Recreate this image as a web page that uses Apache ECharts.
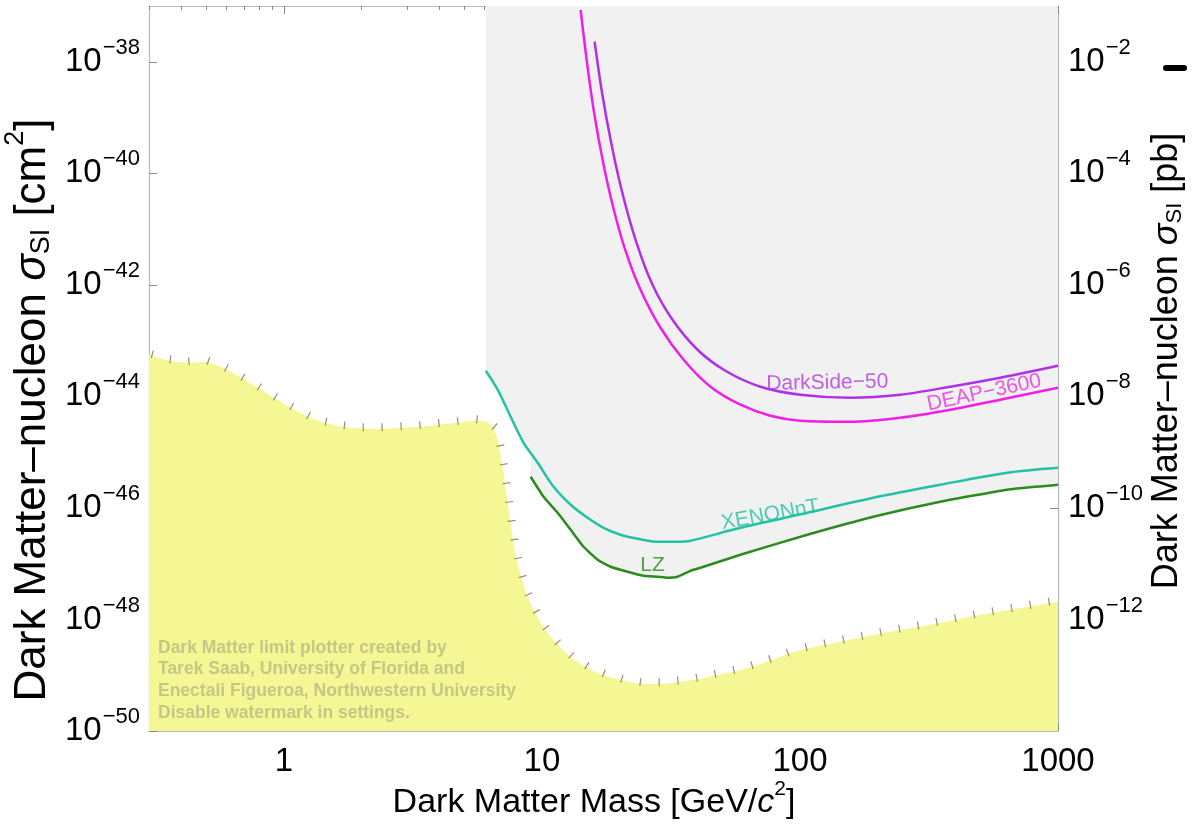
<!DOCTYPE html>
<html>
<head>
<meta charset="utf-8">
<script src="https://cdn.jsdelivr.net/npm/echarts@6/dist/echarts.min.js"></script>
<style>html,body{margin:0;padding:0;background:#fff;}#c{width:1193px;height:829px;}</style>
</head>
<body>
<div id="c"></div>
<script>
// ---------- data ----------
const floorMass = [0.3,0.359,0.425,0.499,0.58,0.682,0.793,0.915,1.064,1.239,1.428,1.707,2.02,2.375,2.838,3.332,3.947,4.717,5.538,6.107,6.5,6.8,7.045,7.3,7.565,7.84,8.2,8.65,9.2,9.88,10.81,11.81,13.15,15.16,17.65,20.72,24.76,29.33,34.43,41.16,48.3,57.25,67.2,80.3,95.1,109.7,156.7,223.9,319.8,456.7,652.6,1000];
const floorSigma = [5.57e-44,4.35e-44,4.0e-44,4.18e-44,3.26e-44,2.16e-44,1.43e-44,9.44e-45,6.25e-45,4.31e-45,3.37e-45,2.85e-45,2.62e-45,2.62e-45,2.74e-45,2.85e-45,3.1e-45,3.37e-45,3.66e-45,3.51e-45,2.74e-45,1.36e-45,5.25e-46,1.72e-46,4.99e-47,1.78e-47,7.16e-48,3.14e-48,1.62e-48,8.73e-49,4.9e-49,3.11e-49,1.98e-49,1.31e-49,9.8e-50,7.96e-50,7.03e-50,7.03e-50,7.64e-50,8.65e-50,1.02e-49,1.2e-49,1.48e-49,1.98e-49,2.63e-49,3.11e-49,4.33e-49,6.01e-49,8.03e-49,1.12e-48,1.49e-48,2.08e-48];

const xenonMass = [6.06,6.74,7.565,8.49,9.63,11.1,12.92,15.03,17.34,20.17,23.47,28.05,33.52,37.64,58.8,106.8,192.4,349.6,635.3,1000];
const xenonSigma = [2.88e-44,1.31e-44,4.31e-45,1.47e-45,6.46e-46,2.39e-46,1.14e-46,6.66e-47,4.4e-47,3.3e-47,2.8e-47,2.47e-47,2.47e-47,2.58e-47,4.4e-47,8.18e-47,1.52e-46,2.6e-46,4.27e-46,5.25e-46];

const lzMass = [9.04,10.15,11.5,12.92,14.5,16.43,18.45,21.47,24.76,28.05,30.67,33.52,37.64,41.16,58.8,106.8,192.4,349.6,635.3,1000];
const lzSigma = [3.62e-46,1.58e-46,8.18e-47,4.06e-47,2.01e-47,1.18e-47,8.81e-48,7.16e-48,6.08e-48,5.83e-48,5.6e-48,5.83e-48,7.46e-48,8.45e-48,1.45e-47,3.3e-47,6.94e-47,1.29e-46,2.12e-46,2.6e-46];

const deapMass = [14.12,14.9,15.86,17.18,18.78,20.9,24.1,28.8,35.4,45.0,58.8,76.8,100.3,156.7,244.7,382.2,597,1000];
const deapSigma = [8.55e-38,1.09e-38,1.38e-39,1.75e-40,2.73e-41,4.62e-42,8.17e-43,1.7e-43,4.54e-44,1.49e-44,7.08e-45,4.49e-45,3.66e-45,3.51e-45,4.14e-45,5.75e-45,8.7e-45,1.43e-44];

const dsMass = [16.0,17.02,18.45,20.35,23.06,26.83,32.06,40.08,51.4,70.26,100.3,156.7,244.7,382.2,597,1000];
const dsSigma = [2.29e-38,3.15e-39,3.99e-40,5.07e-41,6.43e-42,1.0e-42,2.36e-43,6.86e-44,2.88e-44,1.49e-44,1.07e-44,9.44e-45,1.07e-44,1.49e-44,2.16e-44,3.54e-44];

const curveLabels = ['DarkSide\u221250', 'DEAP\u22123600', 'XENONnT', 'LZ'];
const labelMass = [127.6, 517, 76.8, 26.83];
const labelSigma = [1.75e-44, 1.16e-44, 7.53e-47, 9.57e-48];

const xMajorTicks = [1, 10, 100, 1000];
const yExpTicksCm2 = [-50, -48, -46, -44, -42, -40, -38];   // exponents of 10, cm^2
const yExpTicksPb = [-12, -10, -8, -6, -4, -2];             // exponents of 10, pb
const watermarkLines = ['Dark Matter limit plotter created by', 'Tarek Saab, University of Florida and', 'Enectali Figueroa, Northwestern University', 'Disable watermark in settings.'];

// ---------- helpers ----------
const xMinorTicks = [];
[0.1, 1, 10, 100].forEach(d => { for (let k = 2; k <= 9; k++) { const v = +(k * d).toPrecision(3); if (v >= 0.3 && v <= 1000) xMinorTicks.push(v); } });
// y is drawn on a value axis holding log10(sigma)
const lg = Math.log10;
const zip = (a, b) => a.map((v, i) => [v, lg(b[i])]);

function interpLog(ms, ss, m) {
  for (let i = 0; i < ms.length - 1; i++) {
    if (m >= ms[i] && m <= ms[i + 1]) {
      const t = (lg(m) - lg(ms[i])) / (lg(ms[i + 1]) - lg(ms[i]));
      return lg(ss[i]) + t * (lg(ss[i + 1]) - lg(ss[i]));
    }
  }
  return lg(ss[ss.length - 1]);
}
// lower envelope of the limit curves (gray excluded region): XENONnT until LZ begins, then LZ
const envelope = [];
xenonMass.forEach((m, i) => { if (m < lzMass[0]) envelope.push([m, lg(xenonSigma[i])]); });
envelope.push([lzMass[0], interpLog(xenonMass, xenonSigma, lzMass[0])]);
lzMass.forEach((m, i) => envelope.push([m, lg(lzSigma[i])]));

const FONT = '"Liberation Sans", Arial, Helvetica, sans-serif';
const expRich = {
  b: { fontSize: 33, fontFamily: FONT, color: '#000' },
  s: { fontSize: 22, fontFamily: FONT, color: '#000', padding: [0, 0, 28, 1] }
};
function expLabel(v) {
  const e = Math.round(v);
  return '{b|10}{s|\u2212' + Math.abs(e) + '}';
}
function titleRich(fs) {
  return {
    t: { fontSize: fs, fontFamily: FONT, color: '#000' },
    i: { fontSize: fs, fontFamily: FONT, fontStyle: 'italic', color: '#000' },
    sub: { fontSize: Math.round(fs * 0.62), fontFamily: FONT, color: '#000', padding: [Math.round(fs * 0.42), 0, 0, 0] },
    sup: { fontSize: Math.round(fs * 0.62), fontFamily: FONT, color: '#000', padding: [0, 0, Math.round(fs * 0.8), 0] }
  };
}

const frameColor = '#b9b9b9';
const tickColor = '#8a8a8a';
function xAxisDef(pos, ticks, len, showLine, showLabel) {
  return {
    type: 'log', logBase: 10, min: 0.3, max: 1000, position: pos,
    axisLine: { show: showLine, lineStyle: { color: frameColor, width: 1.2 } },
    axisTick: { show: true, inside: true, length: len, customValues: ticks, lineStyle: { color: tickColor, width: 1 } },
    axisLabel: { show: showLabel, customValues: xMajorTicks, formatter: v => String(Math.round(v)), fontSize: 33, fontFamily: FONT, color: '#000', margin: 14 },
    splitLine: { show: false }, minorTick: { show: false }
  };
}

const chart = echarts.init(document.getElementById('c'), null, { renderer: 'canvas' });
const option = {
  animation: false,
  backgroundColor: '#ffffff',
  grid: { left: 149, right: 135, top: 6, bottom: 98, containLabel: false },
  xAxis: [
    xAxisDef('bottom', xMajorTicks, 8, true, true),
    xAxisDef('bottom', xMinorTicks, 4, false, false),
    xAxisDef('top', xMajorTicks, 8, true, false),
    xAxisDef('top', xMinorTicks, 4, false, false)
  ],
  yAxis: [
    {
      type: 'value', min: -50, max: -37, position: 'left',
      axisLine: { show: true, lineStyle: { color: frameColor, width: 1.2 } },
      axisTick: { show: true, inside: true, length: 8, customValues: yExpTicksCm2, lineStyle: { color: tickColor } },
      axisLabel: { customValues: yExpTicksCm2, formatter: expLabel, rich: expRich, margin: 9 },
      splitLine: { show: false }
    },
    {
      type: 'value', min: -14, max: -1, position: 'right',
      axisLine: { show: true, lineStyle: { color: frameColor, width: 1.2 } },
      axisTick: { show: true, inside: true, length: 8, customValues: yExpTicksPb, lineStyle: { color: tickColor } },
      axisLabel: { customValues: yExpTicksPb, formatter: expLabel, rich: expRich, margin: 10 },
      splitLine: { show: false }
    }
  ],
  series: [
    { // excluded region (gray) above the lowest limit curve
      type: 'line', data: envelope, showSymbol: false, symbol: 'none', smooth: 0.2,
      lineStyle: { width: 0 }, areaStyle: { color: '#f1f1f1', opacity: 1, origin: 'end' }, z: 1, silent: true
    },
    { // neutrino floor (yellow)
      type: 'line', data: zip(floorMass, floorSigma), showSymbol: false, symbol: 'none', smooth: 0.2,
      lineStyle: { width: 0 }, areaStyle: { color: '#f5f794', opacity: 1, origin: 'start' }, z: 2, silent: true
    },
    { // hatch marks along the neutrino floor
      type: 'custom', data: [[1, -45]], silent: true, z: 3,
      renderItem: function (params, api) {
        const pts = floorMass.map((m, i) => api.coord([m, lg(floorSigma[i])]));
        const children = [];
        const step = 19, a = 2.5, b = 5.5;
        let next = 3, acc = 0;
        for (let i = 0; i < pts.length - 1; i++) {
          const dx = pts[i + 1][0] - pts[i][0], dy = pts[i + 1][1] - pts[i][1];
          const L = Math.hypot(dx, dy);
          if (L === 0) continue;
          const ux = dx / L, uy = dy / L, nx = uy, ny = -ux;
          while (next <= acc + L) {
            const t = next - acc;
            const px = pts[i][0] + ux * t, py = pts[i][1] + uy * t;
            children.push({ type: 'line', shape: { x1: px - nx * a, y1: py - ny * a, x2: px + nx * b, y2: py + ny * b },
              style: { stroke: '#9c8e6c', lineWidth: 1.2 } });
            next += step;
          }
          acc += L;
        }
        return { type: 'group', children: children };
      }
    },
    {
      name: 'DarkSide-50', type: 'line', data: zip(dsMass, dsSigma), showSymbol: false, symbol: 'none', smooth: 0.3,
      lineStyle: { color: '#b22fe6', width: 2.5 }, z: 5
    },
    {
      name: 'DEAP-3600', type: 'line', data: zip(deapMass, deapSigma), showSymbol: false, symbol: 'none', smooth: 0.3,
      lineStyle: { color: '#f01ee6', width: 2.5 }, z: 5
    },
    {
      name: 'XENONnT', type: 'line', data: zip(xenonMass, xenonSigma), showSymbol: false, symbol: 'none', smooth: 0.3,
      lineStyle: { color: '#22c2a2', width: 2.5 }, z: 5
    },
    {
      name: 'LZ', type: 'line', data: zip(lzMass, lzSigma), showSymbol: false, symbol: 'none', smooth: 0.15,
      lineStyle: { color: '#2a8c1c', width: 2.5 }, z: 5
    },
    {
      type: 'scatter', symbolSize: 1, itemStyle: { color: 'rgba(0,0,0,0)' }, z: 6, silent: true,
      data: curveLabels.map((n, i) => ({
        value: [labelMass[i], lg(labelSigma[i])],
        label: {
          show: true, position: 'inside', formatter: n, fontFamily: FONT, fontSize: 21,
          rotate: [1, 12, 10, 0][i],
          color: ['#b438dc', '#ea2fe0', '#22c2a2', '#2a8c1c'][i]
        }
      }))
    }
  ],
  graphic: [
    {
      type: 'text', x: 33, y: 410, rotation: Math.PI / 2, z: 10,
      style: { text: '{t|Dark Matter\u2013nucleon }{i|\u03c3}{sub|SI}{t| [cm}{sup|2}{t|]}', rich: titleRich(44), align: 'center', verticalAlign: 'middle' }
    },
    {
      type: 'text', x: 1167, y: 361, rotation: Math.PI / 2, z: 10,
      style: { text: '{t|Dark Matter\u2013nucleon }{i|\u03c3}{sub|SI}{t| [pb]}', rich: titleRich(36), align: 'center', verticalAlign: 'middle' }
    },
    {
      type: 'text', x: 594, y: 803, z: 10,
      style: { text: '{t|Dark Matter Mass [GeV/}{i|c}{sup|2}{t|]}', rich: titleRich(34), align: 'center', verticalAlign: 'middle' }
    },
    {
      type: 'text', x: 158, y: 637, z: 10,
      style: { text: watermarkLines.join('\n'), font: 'bold 17.5px ' + FONT, fill: '#c6c785', lineHeight: 21.7 }
    },
    { type: 'rect', shape: { x: 1163, y: 65, width: 24, height: 6, r: 3 }, style: { fill: '#000' }, z: 10 }
  ]
};
chart.setOption(option);
</script>
</body>
</html>
